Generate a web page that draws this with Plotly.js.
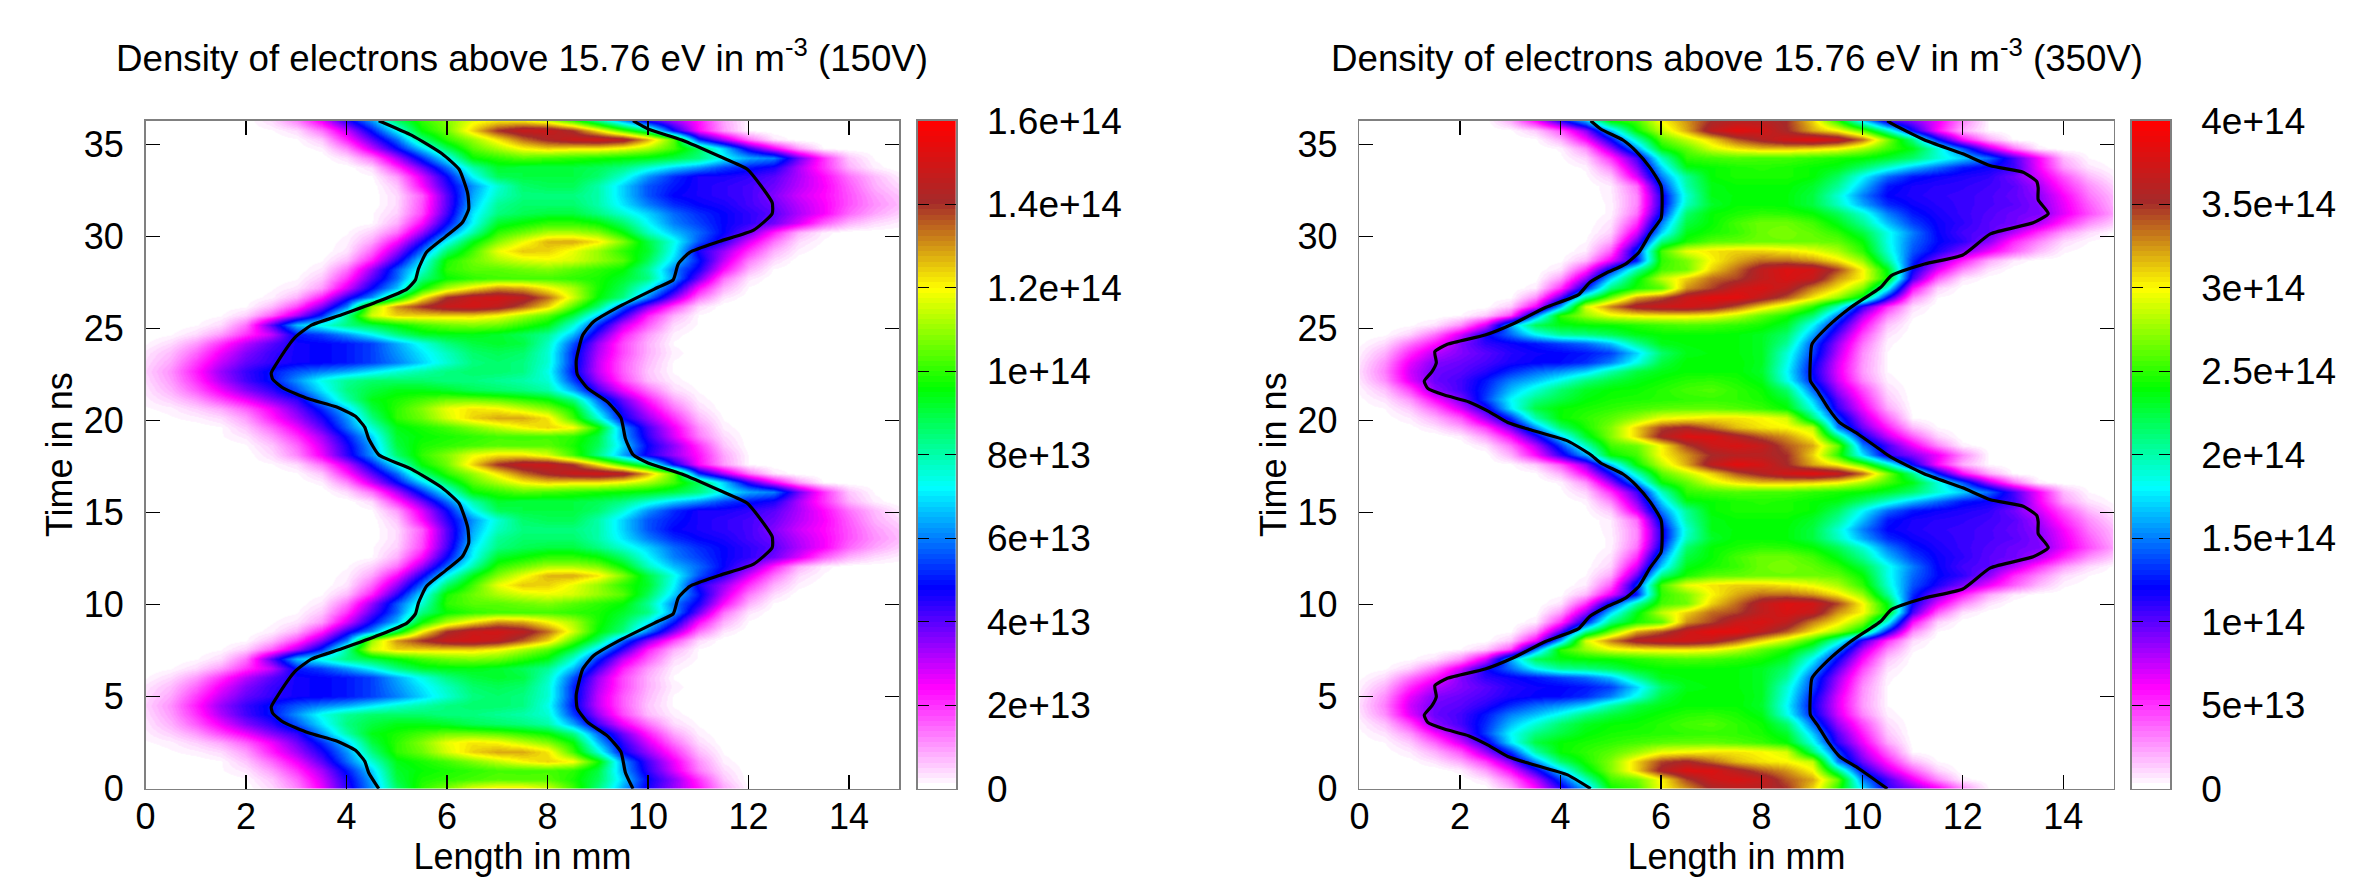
<!DOCTYPE html>
<html><head><meta charset="utf-8">
<script src="https://cdn.plot.ly/plotly-3.0.1.min.js"></script>
<style>html,body{margin:0;padding:0;background:#fff;overflow:hidden}#c{width:2377px;height:882px}</style>
</head><body><div id="c"></div>
<script>
// Length samples in mm
const lengthMm = [0,.5,1,1.5,2,2.5,3,3.5,4,4.5,5,5.5,6,6.5,7,7.5,8,8.5,9,9.5,10,10.5,11,11.5,12,12.5,13,13.5,14,14.5,15];
const timeStepNs = 18.15/36;
const unit = 1e12;
// one RF period of density (rows = time, columns = length; units of 1e12 m^-3; trailing zeros left out)
const density150V = [
[0,0,0,0,0,4,12,26,44,62,86,100,108,118,122,122,116,102,84,64,46,34,23,9,1],
[0,0,0,0,1,6,15,29,46,64,90,98,100,102,104,103,104,98,88,68,48,35,20,6],
[0,0,0,1,3,10,20,33,50,68,92,96,98,100,102,102,102,100,90,64,44,28,13,4],
[0,0,0,1,6,15,26,40,58,76,94,98,102,108,114,120,124,120,98,62,42,26,11,2],
[0,1,2,4,10,22,33,46,62,84,100,106,116,124,128,128,122,102,76,48,34,20,7,1],
[1,2,5,9,16,26,38,52,68,90,100,108,118,122,120,114,108,96,66,44,28,14,4],
[2,5,10,18,26,36,44,62,80,94,98,102,106,106,104,100,96,84,58,38,22,9,2],
[3,8,16,26,36,44,56,70,84,90,94,94,92,88,86,84,80,64,42,26,14,4,1],
[4,10,20,32,42,50,62,74,82,86,86,86,84,84,82,80,76,54,34,18,7,2],
[5,11,22,34,43,50,56,60,64,70,76,80,84,86,86,84,74,50,30,16,6,1],
[4,9,19,30,39,44,47,48,50,54,60,68,76,84,86,84,76,52,30,16,7,1],
[3,7,15,26,36,43,47,48,50,54,62,70,78,86,88,86,76,52,32,18,8,2],
[1,4,10,20,31,40,47,48,50,54,64,74,84,90,92,90,78,56,34,18,8,1],
[0,1,4,10,20,30,50,54,62,72,84,92,94,94,92,88,82,66,42,22,10,2],
[0,0,1,4,14,40,66,74,84,90,96,102,106,108,106,100,94,76,52,30,16,4,1],
[0,0,0,1,5,16,32,52,82,116,124,124,124,124,120,112,104,90,68,44,22,8,1],
[0,0,0,0,1,7,18,36,60,110,130,140,148,150,146,136,124,104,86,58,36,18,4],
[0,0,0,0,0,2,8,22,44,62,90,120,140,148,150,146,134,116,96,84,60,36,14,3],
[0,0,0,0,0,1,3,10,28,48,66,96,112,122,130,128,120,112,98,88,72,50,24,8,1],
[0,0,0,0,0,0,1,6,20,40,58,84,96,100,102,102,102,100,98,92,84,62,38,14,3],
[0,0,0,0,0,0,0,3,14,34,56,76,100,104,104,106,108,104,100,96,82,60,46,24,8,1],
[0,0,0,0,0,0,0,1,7,22,44,70,98,106,112,116,118,116,110,104,88,68,50,30,13,4],
[0,0,0,0,0,0,0,0,3,15,34,58,86,102,118,125,124,118,110,100,92,72,46,34,20,8,2],
[0,0,0,0,0,0,0,0,2,9,24,46,72,94,108,118,127,128,122,108,90,74,56,44,28,14,4,1],
[0,0,0,0,0,0,0,0,1,5,14,34,58,80,100,106,112,112,108,96,78,66,58,48,38,22,8,2],
[0,0,0,0,0,0,0,0,0,1,8,24,48,72,92,96,100,100,96,86,72,60,54,48,44,38,28,16,8,4,2],
[0,0,0,0,0,0,0,0,0,1,5,18,42,70,84,88,90,90,84,76,68,58,52,48,44,40,32,25,15,9,5],
[0,0,0,0,0,0,0,0,0,0,4,17,40,66,82,86,86,86,80,70,60,52,48,46,42,38,31,25,17,11,7],
[0,0,0,0,0,0,0,0,0,0,4,16,40,64,78,84,84,84,80,68,56,48,46,44,42,36,29,24,17,10,6],
[0,0,0,0,0,0,0,0,0,0,6,24,44,62,76,86,88,88,80,68,56,50,46,44,42,38,31,25,16,8,4],
[0,0,0,0,0,0,0,0,0,1,10,28,48,72,88,90,90,90,86,76,62,52,46,46,44,40,32,24,14,7,2],
[0,0,0,0,0,0,0,0,0,4,20,38,58,80,92,90,90,90,88,84,76,68,62,54,50,46,32,20,8,2],
[0,0,0,0,0,0,0,0,4,14,32,52,72,96,100,104,102,100,98,96,94,90,84,72,64,60,38,20,6,1],
[0,0,0,0,0,0,0,2,12,30,48,68,88,104,112,120,124,122,122,118,112,102,88,68,44,26,10,1],
[0,0,0,0,0,0,1,6,22,40,58,84,100,110,122,134,142,148,150,146,128,104,52,32,14,3],
[0,0,0,0,0,1,4,14,30,50,72,96,106,124,140,148,148,140,122,102,84,48,24,10,1]
];
const density350V = [
[0,0,0,0,0,0,20,60,110,160,240,255,300,325,352,360,360,350,310,250,175,110,90,65,30,3],
[0,0,0,0,0,8,35,78,135,195,255,265,300,345,370,378,368,340,320,265,150,105,65,30,5],
[0,0,0,0,5,25,60,112,170,230,270,310,358,380,380,360,340,325,300,210,120,75,40,12],
[0,0,1,8,22,48,92,155,215,245,270,310,345,355,335,315,305,300,285,150,95,55,18,3],
[0,1,6,20,42,84,130,200,240,250,260,275,295,300,305,305,300,290,215,135,80,38,3],
[1,3,14,38,72,112,175,225,240,245,250,255,260,262,262,258,252,240,185,110,65,22,1],
[2,8,26,60,92,135,180,210,225,238,244,246,248,250,252,250,245,230,168,100,55,15],
[4,16,45,88,105,130,165,190,215,232,240,242,248,255,258,250,242,215,145,85,45,10],
[8,28,68,96,105,125,150,165,185,210,225,235,242,248,250,245,235,185,125,72,30,5],
[10,32,72,95,100,112,130,145,155,170,200,225,235,240,240,240,230,180,120,68,25,3],
[8,28,66,90,96,104,115,120,122,130,150,185,225,240,240,240,232,185,125,70,26,3],
[5,20,52,78,90,100,112,118,120,125,135,170,215,235,238,238,232,190,135,78,28,3],
[2,10,34,58,90,110,118,125,135,145,165,205,235,238,240,238,232,205,140,85,35,4],
[0,2,12,35,72,118,145,180,205,210,220,235,240,240,240,238,232,215,160,100,45,8],
[0,0,2,8,28,70,160,220,235,240,242,248,254,258,255,250,244,230,180,120,60,15,1],
[0,0,0,0,3,14,45,150,250,275,295,302,305,305,300,285,262,245,215,150,80,30,4],
[0,0,0,0,0,1,14,62,160,290,330,362,372,375,365,340,310,285,250,195,110,50,10],
[0,0,0,0,0,0,2,28,100,205,265,320,340,370,385,385,365,340,305,275,230,120,30,3],
[0,0,0,0,0,0,0,6,50,125,210,245,260,325,345,370,378,365,330,305,270,185,60,12,1],
[0,0,0,0,0,0,0,1,25,85,170,235,285,310,335,345,365,378,368,325,300,240,105,40,8,1],
[0,0,0,0,0,0,0,0,8,50,125,200,255,265,310,335,365,380,375,345,300,235,120,68,30,8,1],
[0,0,0,0,0,0,0,0,2,18,65,125,250,268,300,320,335,335,325,305,275,205,130,90,55,22,6,1],
[0,0,0,0,0,0,0,0,0,6,40,130,255,295,305,310,310,305,295,280,250,190,140,115,92,65,40,18,4,1],
[0,0,0,0,0,0,0,0,0,3,22,95,210,245,260,262,265,265,265,262,240,185,145,122,110,88,52,30,10,3],
[0,0,0,0,0,0,0,0,0,1,12,70,170,235,245,252,265,268,262,250,225,185,150,120,105,100,78,50,25,10,2],
[0,0,0,0,0,0,0,0,0,0,8,50,150,225,240,255,265,265,255,235,205,165,135,118,110,100,95,80,52,28,14],
[0,0,0,0,0,0,0,0,0,0,4,35,125,215,240,245,250,248,240,220,190,150,125,115,108,102,95,92,68,44,24],
[0,0,0,0,0,0,0,0,0,0,4,30,115,195,230,240,240,238,225,195,160,130,118,112,108,104,100,90,66,40,20],
[0,0,0,0,0,0,0,0,0,0,5,30,115,190,235,238,240,238,225,190,150,120,114,110,108,104,98,88,62,34,18],
[0,0,0,0,0,0,0,0,0,0,6,36,130,200,235,240,240,240,230,205,165,125,115,112,110,106,100,82,52,28,12],
[0,0,0,0,0,0,0,0,0,2,15,70,150,205,240,245,245,245,240,218,180,145,125,118,114,110,94,72,42,18,6],
[0,0,0,0,0,0,0,0,0,4,30,88,170,235,240,245,248,245,240,235,215,190,165,145,125,118,108,64,25,8,2],
[0,0,0,0,0,0,0,0,2,12,50,105,195,250,255,258,255,255,250,245,240,230,215,190,170,145,105,62,18,3],
[0,0,0,0,0,0,0,0,4,28,85,155,240,262,290,305,315,315,310,300,280,255,235,190,140,80,35,5],
[0,0,0,0,0,0,0,2,20,60,120,195,260,285,310,340,358,375,385,372,335,270,210,125,60,22,2],
[0,0,0,0,0,0,2,14,42,88,165,240,285,320,365,385,375,352,320,300,260,195,120,60,20,3]
];
// black curves (mm, ns)
const c150LX=[4.64,4.44,4.36,4.17,3.79,3.24,2.75,2.53,2.5,2.64,2.97,3.3,3.9,4.66,5.2,5.37,5.43,5.59,5.97,6.3,6.43,6.41,6.24,5.9,5.3,4.64,4.44,4.36,4.17,3.79,3.24,2.75,2.53,2.5,2.64,2.97,3.3,3.9,4.66,5.2,5.37,5.43,5.59,5.97,6.3,6.43,6.41,6.24,5.9,5.3,4.64];
const c150LY=[0,.87,1.5,2.1,2.6,3.04,3.6,4.1,4.44,5.1,6.36,7.04,7.6,8.36,9,9.5,10.1,11,11.85,12.6,13.35,14.2,15.5,16.35,17.35,18.15,19.02,19.65,20.25,20.75,21.19,21.75,22.25,22.59,23.25,24.51,25.19,25.75,26.51,27.15,27.65,28.25,29.15,30,30.75,31.5,32.35,33.65,34.5,35.5,36.3];
const c150RX=[9.7,9.55,9.46,9.19,8.8,8.59,8.57,8.7,8.92,9.46,10.2,10.5,10.6,10.83,11.43,12.1,12.47,12.47,12.25,11.98,11.43,10.67,10,9.7,9.55,9.46,9.19,8.8,8.59,8.57,8.7,8.92,9.46,10.2,10.5,10.6,10.83,11.43,12.1,12.47,12.47,12.25,11.98,11.43,10.67,10,9.7];
const c150RY=[0,.87,2,2.87,3.6,4.37,5.1,6.5,7.24,8.1,9.1,9.5,10.36,11,11.6,12.2,13.1,13.7,14.6,15.5,16.2,17.1,17.7,18.15,19.02,20.15,21.02,21.75,22.52,23.25,24.65,25.39,26.25,27.25,27.65,28.51,29.15,29.75,30.35,31.25,31.85,32.75,33.65,34.35,35.25,35.85,36.3];
const c350LX=[4.6,4.14,3.38,2.95,2.56,2.18,1.69,1.36,1.29,1.44,1.53,1.5,1.75,2.5,3.05,3.7,4.36,4.58,4.9,5.29,5.56,5.78,6,6.02,6,5.78,5.5,5.24,4.8,4.6,4.14,3.38,2.95,2.56,2.18,1.69,1.36,1.29,1.44,1.53,1.5,1.75,2.5,3.05,3.7,4.36,4.58,4.9,5.29,5.56,5.78,6,6.02,6,5.78,5.5,5.24,4.8,4.6];
const c350LY=[0,.75,1.37,1.75,2.37,2.87,3.24,3.6,4,4.5,5,5.6,6,6.5,7.1,8,8.7,9.36,9.86,10.36,11,12,12.85,13.5,14.6,15.6,16.5,17.1,17.7,18.15,18.9,19.52,19.9,20.52,21.02,21.39,21.75,22.15,22.65,23.15,23.75,24.15,24.65,25.25,26.15,26.85,27.51,28.01,28.51,29.15,30.15,31,31.65,32.75,33.75,34.65,35.25,35.85,36.3];
const c350RX=[10.5,9.93,9.55,9.33,9.1,8.97,8.97,9,9.33,9.77,10.37,10.58,11.24,12,12.55,13.4,13.7,13.5,13.5,13.47,13.2,12.55,12,11.24,10.58,10.5,9.93,9.55,9.33,9.1,8.97,8.97,9,9.33,9.77,10.37,10.58,11.24,12,12.55,13.4,13.7,13.5,13.5,13.47,13.2,12.55,12,11.24,10.58,10.5];
const c350RY=[0,1.1,1.75,2.5,3.5,4,5.2,6,7,8,9.1,9.73,10.36,10.85,12,12.6,13.1,13.85,14.5,14.85,15.35,15.7,16.35,17.1,18,18.15,19.25,19.9,20.65,21.65,22.15,23.35,24.15,25.15,26.15,27.25,27.88,28.51,29,30.15,30.75,31.25,32,32.65,33,33.5,33.85,34.5,35.25,36.15,36.3];
// axis and colour-scale labels
const xTicks=[0,2,4,6,8,10,12,14];
const yTicks=[0,5,10,15,20,25,30,35];
const cb150Vals=[0,2e13,4e13,6e13,8e13,1e14,1.2e14,1.4e14,1.6e14];
const cb150Text=['0','2e+13','4e+13','6e+13','8e+13','1e+14','1.2e+14','1.4e+14','1.6e+14'];
const cb350Vals=[0,5e13,1e14,1.5e14,2e14,2.5e14,3e14,3.5e14,4e14];
const cb350Text=['0','5e+13','1e+14','1.5e+14','2e+14','2.5e+14','3e+14','3.5e+14','4e+14'];
const stops=[[0,[255,255,255]],[.15,[255,0,255]],[.3,[0,0,255]],[.45,[0,255,255]],[.6,[0,255,0]],[.75,[255,255,0]],[.88,[165,42,42]],[1,[255,0,0]]];
const nBands=128;
function colourAt(f){
  for(let i=1;i<stops.length;i++){ if(f<=stops[i][0]){
    const a=stops[i-1],b=stops[i],u=(f-a[0])/(b[0]-a[0]);
    return 'rgb('+a[1].map((v,j)=>Math.round(v+(b[1][j]-v)*u)).join(',')+')';
  }}
  return 'rgb(255,0,0)';
}
const bandScale=[];
for(let i=0;i<nBands;i++){const c=colourAt(i/(nBands-1));bandScale.push([i/nBands,c],[(i+1)/nBands,c]);}
function fullZ(period){
  const rows=period.map(r=>r.concat(new Array(lengthMm.length-r.length).fill(0)).map(v=>v*unit));
  return rows.concat(rows,[rows[0]]);
}
const W=2377,H=882,T=120.7,B=788.7;
const pan=[{l:145.6,r:899.3,cl:917.7,cr:956,d:density150V,max:1.6e14,vals:cb150Vals,text:cb150Text,lx:c150LX,ly:c150LY,rx:c150RX,ry:c150RY,title:'Density of electrons above 15.76 eV in m<sup>-3</sup> (150V)'},
           {l:1359.4,r:2113.6,cl:2132,cr:2170.3,d:density350V,max:4e14,vals:cb350Vals,text:cb350Text,lx:c350LX,ly:c350LY,rx:c350RX,ry:c350RY,title:'Density of electrons above 15.76 eV in m<sup>-3</sup> (350V)'}];
const fontF='"Liberation Sans",Arial,sans-serif';
const traces=[],layout={width:W,height:H,margin:{l:0,r:0,t:0,b:0},paper_bgcolor:'#fff',plot_bgcolor:'#fff',showlegend:false,annotations:[],font:{family:fontF,size:36,color:'#000'}};
const yDom=[(H-B)/H,(H-T)/H];
pan.forEach((p,i)=>{
  const n=i*2+1,m=i*2+2;
  const xa='x'+(n==1?'':n),ya='y'+(n==1?'':n),xb='x'+m,yb='y'+m;
  traces.push({type:'heatmap',x:lengthMm,y0:0,dy:timeStepNs,z:fullZ(p.d),zmin:0,zmax:p.max,colorscale:bandScale,zsmooth:'best',showscale:false,xaxis:xa,yaxis:ya,hoverinfo:'skip'});
  traces.push({type:'scatter',mode:'lines',x:p.lx,y:p.ly,line:{color:'#000',width:3.2,shape:'spline',smoothing:.5},xaxis:xa,yaxis:ya,hoverinfo:'skip'});
  traces.push({type:'scatter',mode:'lines',x:p.rx,y:p.ry,line:{color:'#000',width:3.2,shape:'spline',smoothing:.5},xaxis:xa,yaxis:ya,hoverinfo:'skip'});
  const lv=[],zv=[];
  for(let k=0;k<nBands;k++){const v=(k+.5)/nBands*p.max;lv.push(v);zv.push([v]);}
  traces.push({type:'heatmap',x:[0],y:lv,z:zv,zmin:0,zmax:p.max,colorscale:bandScale,showscale:false,zsmooth:false,xaxis:xb,yaxis:yb,hoverinfo:'skip'});
  const base={showline:true,linecolor:'#808080',linewidth:1.6,mirror:'ticks',ticks:'inside',tickcolor:'#000',tickwidth:1.2,showgrid:false,zeroline:false,tickfont:{size:36,color:'#000',family:fontF}};
  const sx=n==1?'xaxis':'xaxis'+n, sy=n==1?'yaxis':'yaxis'+n;
  layout[sx]=Object.assign({},base,{domain:[p.l/W,p.r/W],range:[0,15],tickmode:'array',tickvals:xTicks,ticklen:14,ticklabelstandoff:-5,anchor:ya,title:{text:'Length in mm',font:{size:36},standoff:2}});
  layout[sy]=Object.assign({},base,{domain:yDom,range:[0,36.3],tickmode:'array',tickvals:yTicks,ticklen:14,ticklabelstandoff:13,anchor:xa,title:{text:'Time in ns',font:{size:36},standoff:0}});
  layout['xaxis'+m]={domain:[p.cl/W,p.cr/W],range:[-.5,.5],showline:true,linecolor:'#808080',linewidth:1.6,mirror:true,showticklabels:false,ticks:'',showgrid:false,zeroline:false,anchor:yb};
  layout['yaxis'+m]=Object.assign({},base,{domain:yDom,range:[0,p.max],side:'right',tickmode:'array',tickvals:p.vals,ticktext:p.text,ticklen:11,ticklabelstandoff:22,anchor:xb,tickfont:{size:37,color:'#000',family:fontF}});
  layout.annotations.push({xref:'paper',yref:'paper',x:(p.l+p.r)/2/W,y:1-56.5/H,xanchor:'center',yanchor:'middle',showarrow:false,text:p.title,font:{size:36.7,family:fontF,color:'#000'}});
});
Plotly.newPlot('c',traces,layout,{displayModeBar:false,staticPlot:true});
</script></body></html>
